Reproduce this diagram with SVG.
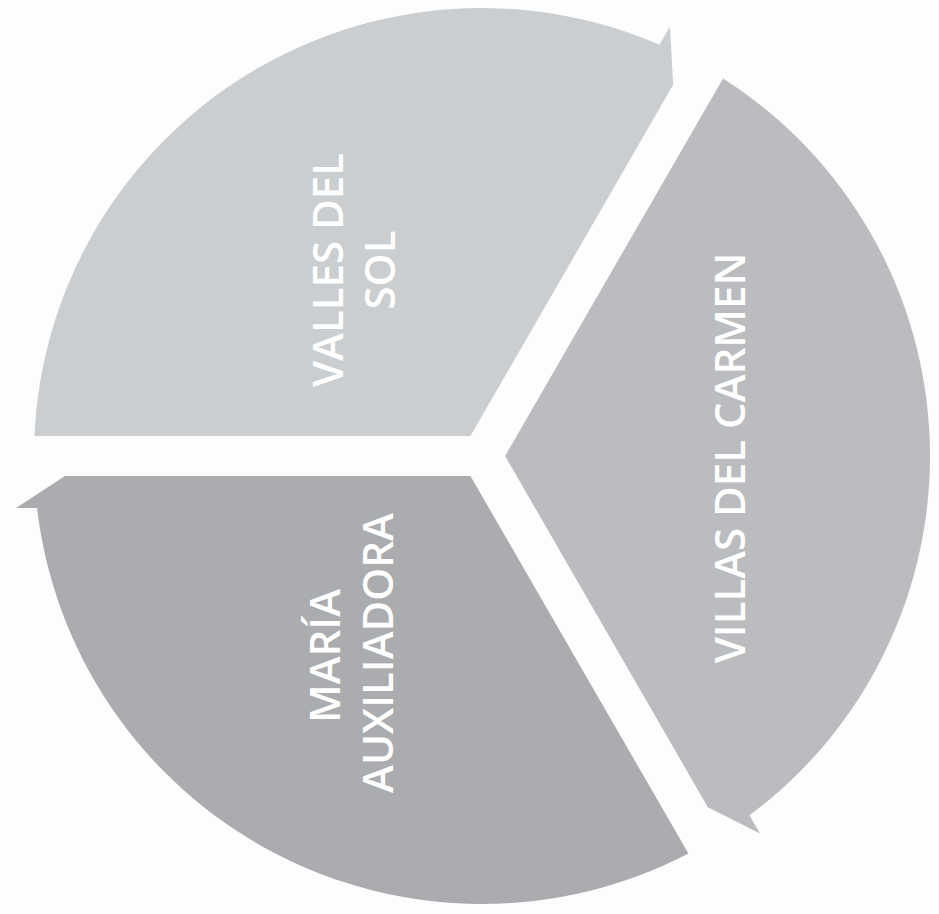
<svg xmlns="http://www.w3.org/2000/svg" width="939" height="914" viewBox="0 0 939 914">
  <defs>
    <style>
      .seg { stroke: none; }
      .lbl { font-family: "Open Sans", "Noto Sans", "Liberation Sans", sans-serif; font-size: 42px; font-weight: 600; fill: #ffffff; text-anchor: middle; }
    </style>
    <path id="segShape" d="M -11.55 -20 L -447.55 -20 A 448 448 0 0 1 177.46 -411.35 L 187.97 -429.56 L 191.18 -371.13 Z"/>
  </defs>
  <rect x="0" y="0" width="939" height="914" fill="#fdfdfd"/>
  <g id="node-valles">
    <use href="#segShape" class="seg" fill="#cbced1" transform="translate(482,456)"/>
    <text class="lbl" x="343" y="270" transform="rotate(-90 343 270)">VALLES DEL</text>
    <text class="lbl" x="395" y="270" transform="rotate(-90 395 270)">SOL</text>
  </g>
  <g id="node-villas">
    <use href="#segShape" class="seg" fill="#babcbf" transform="translate(482,456) rotate(120)"/>
    <text class="lbl" x="745" y="458" transform="rotate(-90 745 458)">VILLAS DEL CARMEN</text>
  </g>
  <g id="node-maria">
    <use href="#segShape" class="seg" fill="#aaacaf" transform="translate(482,456) rotate(240)"/>
    <text class="lbl" x="340" y="656" transform="rotate(-90 340 656)">MARÍA</text>
    <text class="lbl" x="393" y="653" transform="rotate(-90 393 653)">AUXILIADORA</text>
  </g>
  <g id="connectors"/>
</svg>
